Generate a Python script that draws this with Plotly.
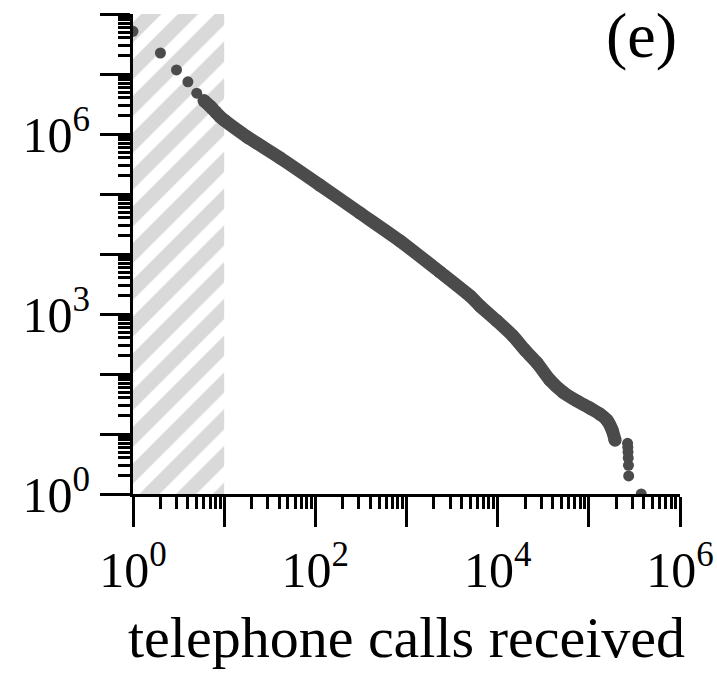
import plotly.graph_objects as go

# Complementary cumulative counts of telephone calls received:
# number of customers who received at least x calls.
calls_low = [1, 2, 3, 4, 5]
count_low = [51360423, 22400000, 11700000, 7400000, 4800000]

calls_body = [6, 7, 8, 9, 10, 18, 41, 112, 309, 849, 2330, 4970, 6400,
              9840, 14700, 19900, 27000, 37500, 52000, 74100, 103000,
              132000, 158000, 180000, 194000]
count_body = [3600000, 2900000, 2350000, 1950000, 1700000, 890000, 400000,
              141000, 48200, 16500, 5010, 2000, 1360, 764, 430, 251, 153,
              79, 50, 35.5, 27, 21.5, 17, 11.7, 7.9]

calls_tail = [266000, 267500, 269000, 270500, 272000, 273500, 375746]
count_tail = [7, 6, 5, 4, 3, 2, 1]

# Region below the fitted lower bound x_min, shown hatched
excluded_x = [1, 10]
axis_y = [1, 1e8]

x_major = [10 ** k for k in range(0, 7)]
x_labels = ["10<sup>0</sup>", "", "10<sup>2</sup>", "", "10<sup>4</sup>", "", "10<sup>6</sup>"]
y_major = [10 ** k for k in range(0, 9)]
y_labels = ["10<sup>0</sup>", "", "", "10<sup>3</sup>", "", "", "10<sup>6</sup>", "", ""]

x_minor = [m * 10 ** k for k in range(0, 6) for m in range(2, 10)]
y_minor = [m * 10 ** k for k in range(0, 8) for m in range(2, 10)]

FONT = "Liberation Serif"
MARK = "#4b4b4b"

fig = go.Figure()

fig.add_trace(go.Scatter(
    x=[excluded_x[0], excluded_x[1], excluded_x[1], excluded_x[0], excluded_x[0]],
    y=[axis_y[0], axis_y[0], axis_y[1], axis_y[1], axis_y[0]],
    mode="lines", line=dict(width=0), fill="toself",
    fillcolor="#d9d9d9",
    fillpattern=dict(shape="/", bgcolor="#d9d9d9", fgcolor="white",
                     fgopacity=1, size=26, solidity=0.45),
    hoverinfo="skip", showlegend=False,
))

fig.add_trace(go.Scatter(
    x=calls_body, y=count_body, mode="lines+markers",
    line=dict(color=MARK, width=13, shape="spline", smoothing=0.6),
    marker=dict(color=MARK, size=13),
    showlegend=False,
))

fig.add_trace(go.Scatter(
    x=calls_low + calls_tail, y=count_low + count_tail, mode="markers",
    marker=dict(color=MARK, size=11),
    showlegend=False,
))

axis_common = dict(
    type="log", showgrid=False, zeroline=False, automargin=False,
    showline=True, linecolor="black", linewidth=3,
    ticks="outside", ticklen=30, tickwidth=3, tickcolor="black",
    tickfont=dict(family=FONT, size=50, color="black"),
)

fig.update_xaxes(
    range=[0, 6], tickvals=x_major, ticktext=x_labels,
    minor=dict(tickvals=x_minor, ticks="outside", ticklen=12,
               tickwidth=2.5, tickcolor="black", showgrid=False),
    title=dict(text="telephone calls received",
               font=dict(family=FONT, size=58, color="black"), standoff=20),
    **axis_common,
)
fig.update_yaxes(
    range=[0, 8], tickvals=y_major, ticktext=y_labels,
    minor=dict(tickvals=y_minor, ticks="outside", ticklen=12,
               tickwidth=2.5, tickcolor="black", showgrid=False),
    **axis_common,
)

fig.add_annotation(
    text="(e)", xref="paper", yref="paper", x=0.93, y=0.955,
    xanchor="center", yanchor="middle", showarrow=False,
    font=dict(family=FONT, size=64, color="black"),
)

fig.update_layout(
    width=717, height=682,
    margin=dict(l=133, r=37, t=14, b=188, pad=0),
    plot_bgcolor="white", paper_bgcolor="white",
    showlegend=False,
)

fig.write_html("out.html")
